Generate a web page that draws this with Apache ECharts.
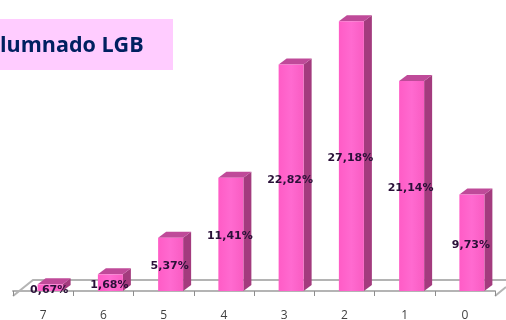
<!DOCTYPE html>
<html>
<head>
<meta charset="utf-8">
<style>html,body{margin:0;padding:0;background:#fff}#c{width:506px;height:320px}</style>
<script src="https://cdn.jsdelivr.net/npm/echarts@6/dist/echarts.min.js"></script>
</head>
<body>
<div id="c"></div>
<script>
const categories = ['7','6','5','4','3','2','1','0'];
const values = [0.67,1.68,5.37,11.41,22.82,27.18,21.14,9.73];
const valueLabels = ['0,67%','1,68%','5,37%','11,41%','22,82%','27,18%','21,14%','9,73%'];
const titleText = 'lumnado LGB';

const chart = echarts.init(document.getElementById('c'), null, {renderer:'canvas'});
const DX = 8, DY = -6, BW = 25, SHIFT = 7;

function renderItem(params, api){
  const i = api.value(0), v = api.value(1);
  const top = api.coord([i, v]), base = api.coord([i, 0]);
  const x0 = top[0] + SHIFT - BW/2, x1 = x0 + BW;
  const yt = top[1], yb = base[1];
  const mid = api.coord([i, v/2]);
  return {type:'group', children:[
    {type:'polygon', shape:{points:[[x1,yt],[x1+DX,yt+DY],[x1+DX,yb+DY],[x1,yb]]}, style:{fill:'#a33b7e'}},
    {type:'polygon', shape:{points:[[x0,yt],[x0+DX,yt+DY],[x1+DX,yt+DY],[x1,yt]]}, style:{fill:'#bf4a99'}},
    {type:'rect', shape:{x:x0,y:yt,width:BW,height:yb-yt},
      style:{fill:new echarts.graphic.LinearGradient(0,0,1,0,[
        {offset:0,color:'#ff5cc6'},{offset:0.5,color:'#ff6ad0'},{offset:1,color:'#f95cc2'}])}},
    {type:'text', z2:10, style:{x:mid[0]+SHIFT-1, y:mid[1]+2, text:valueLabels[i], align:'center', verticalAlign:'middle',
      fontFamily:'"DejaVu Sans"', fontWeight:'bold', fontSize:11, fill:'#2a1038'}}
  ]};
}

chart.setOption({
  animation:false,
  backgroundColor:'#fff',
  grid:{left:13, right:11, top:13, bottom:29, outerBoundsMode:'none'},
  xAxis:{type:'category', data:categories, offset:5,
    axisLine:{lineStyle:{color:'#b4b4b4', width:2}},
    axisTick:{show:true, length:5, lineStyle:{color:'#8c8c8c', width:1}},
    axisLabel:{margin:14, fontFamily:'"Open Sans"', fontSize:12, color:'#404040'}},
  yAxis:{type:'value', min:0, max:28, show:false},
  graphic:[
    {type:'rect', z:0, shape:{x:0,y:19,width:173,height:51}, style:{fill:'#ffccff'}},
    {type:'polyline', z:0, shape:{points:[[13,296],[33,280],[506,280]]}, style:{stroke:'#b4b4b4', lineWidth:2, fill:null}},
    {type:'line', z:0, shape:{x1:495,y1:296,x2:506,y2:287}, style:{stroke:'#b4b4b4', lineWidth:2}},
    {type:'text', z:5, style:{x:0, y:46, text:titleText, verticalAlign:'middle',
      fontFamily:'"Open Sans"', fontWeight:'bold', fontSize:21.5, fill:'#002060'}}
  ],
  series:[{type:'custom', renderItem:renderItem, z:3,
    encode:{x:0,y:1}, data:values.map((v,i)=>[i,v])}]
});
</script>
</body>
</html>
